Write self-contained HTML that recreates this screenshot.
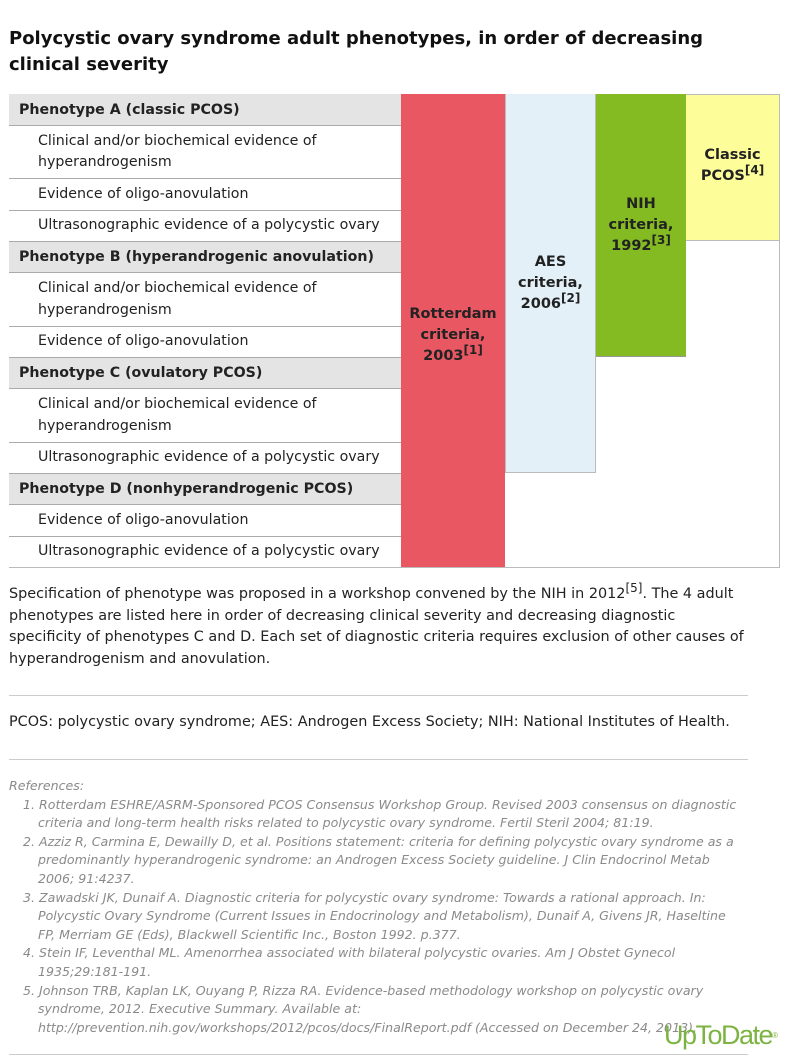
<!DOCTYPE html>
<html><head><meta charset="utf-8"><style>
body{margin:0;width:788px;height:1063px;background:#fff;font-family:"DejaVu Sans","Liberation Sans",sans-serif;color:#222;position:relative;overflow:hidden}
.a{position:absolute}
.title{left:9px;top:26px;font-weight:bold;font-size:18px;line-height:26px;color:#111;width:740px}
.row{position:absolute;left:9px;width:392px;border-top:1px solid #aaa;font-size:14.2px;box-sizing:border-box}
.hd{background:#e4e4e4;font-weight:bold;padding-left:10px;font-size:14.2px}
.it{background:#fff;padding-left:29px;line-height:21.5px}
.col{position:absolute;top:94px;box-sizing:border-box;font-weight:bold;font-size:14.5px;text-align:center;line-height:21px;display:flex;align-items:center;justify-content:center}
sup{font-size:12px;vertical-align:6px;line-height:0}
.ref{left:9px;top:777px;font-style:italic;color:#8a8a8a;font-size:12.6px;line-height:18.6px;white-space:nowrap}
.ref div{padding-left:29px;text-indent:-15px}
</style></head><body>
<div class="a title">Polycystic ovary syndrome adult phenotypes, in order of decreasing clinical severity</div>
<div class="a" style="left:9px;top:94px;width:771px;height:474px;border:1px solid #bbb;box-sizing:border-box"></div>
<div id="rows"></div>
<div class="col" style="left:401px;width:104px;height:473px;background:#e95763;padding-top:10px"><div>Rotterdam<br>criteria,<br>2003<sup>[1]</sup></div></div>
<div class="col" style="left:505px;width:91px;height:379px;background:#e3f0f8;border:1px solid #bbb;border-top:none"><div>AES<br>criteria,<br>2006<sup>[2]</sup></div></div>
<div class="col" style="left:596px;width:90px;height:263px;background:#84bb23;border-bottom:1px solid #999"><div>NIH<br>criteria,<br>1992<sup>[3]</sup></div></div>
<div class="col" style="left:686px;width:94px;height:147px;background:#fdfd9a;border:1px solid #bbb;border-left:none;padding-bottom:4px"><div>Classic<br>PCOS<sup>[4]</sup></div></div>
<div class="a" style="left:9px;top:584px;white-space:nowrap;font-size:14.4px;line-height:21.6px">Specification of phenotype was proposed in a workshop convened by the NIH in 2012<sup>[5]</sup>. The 4 adult<br>phenotypes are listed here in order of decreasing clinical severity and decreasing diagnostic<br>specificity of phenotypes C and D. Each set of diagnostic criteria requires exclusion of other causes of<br>hyperandrogenism and anovulation.</div>
<div class="a" style="left:9px;top:695px;width:739px;border-top:1px solid #ccc"></div>
<div class="a" style="left:9px;top:714px;font-size:14.4px">PCOS: polycystic ovary syndrome; AES: Androgen Excess Society; NIH: National Institutes of Health.</div>
<div class="a" style="left:9px;top:759px;width:739px;border-top:1px solid #ccc"></div>
<div class="a ref">References:
<div>1. Rotterdam ESHRE/ASRM-Sponsored PCOS Consensus Workshop Group. Revised 2003 consensus on diagnostic<br>criteria and long-term health risks related to polycystic ovary syndrome. Fertil Steril 2004; 81:19.</div>
<div>2. Azziz R, Carmina E, Dewailly D, et al. Positions statement: criteria for defining polycystic ovary syndrome as a<br>predominantly hyperandrogenic syndrome: an Androgen Excess Society guideline. J Clin Endocrinol Metab<br>2006; 91:4237.</div>
<div>3. Zawadski JK, Dunaif A. Diagnostic criteria for polycystic ovary syndrome: Towards a rational approach. In:<br>Polycystic Ovary Syndrome (Current Issues in Endocrinology and Metabolism), Dunaif A, Givens JR, Haseltine<br>FP, Merriam GE (Eds), Blackwell Scientific Inc., Boston 1992. p.377.</div>
<div>4. Stein IF, Leventhal ML. Amenorrhea associated with bilateral polycystic ovaries. Am J Obstet Gynecol<br>1935;29:181-191.</div>
<div>5. Johnson TRB, Kaplan LK, Ouyang P, Rizza RA. Evidence-based methodology workshop on polycystic ovary<br>syndrome, 2012. Executive Summary. Available at:<br>http://prevention.nih.gov/workshops/2012/pcos/docs/FinalReport.pdf (Accessed on December 24, 2013).</div>
</div>
<div class="a" style="left:9px;top:1054px;width:739px;border-top:1px solid #ccc"></div>
<div class="a" style="left:664px;top:1020px;font-family:'Liberation Sans',sans-serif;font-size:27px;color:#7cb342;letter-spacing:-1.5px">UpToDate<sup style="font-size:8px">®</sup></div>
<script>
const rowLabels=["Phenotype A (classic PCOS)","Clinical and/or biochemical evidence of<br>hyperandrogenism","Evidence of oligo-anovulation","Ultrasonographic evidence of a polycystic ovary","Phenotype B (hyperandrogenic anovulation)","Clinical and/or biochemical evidence of<br>hyperandrogenism","Evidence of oligo-anovulation","Phenotype C (ovulatory PCOS)","Clinical and/or biochemical evidence of<br>hyperandrogenism","Ultrasonographic evidence of a polycystic ovary","Phenotype D (nonhyperandrogenic PCOS)","Evidence of oligo-anovulation","Ultrasonographic evidence of a polycystic ovary"];
const rowEdges=[94,125,178,210,241,272,326,357,388,442,473,504,536,567];
const c=document.getElementById('rows');
rowLabels.forEach((t,i)=>{
const d=document.createElement('div');
const h=t.startsWith('Phenotype');
d.className='row '+(h?'hd':'it');


const y=rowEdges[i],hh=rowEdges[i+1]-y;
d.style.top=y+'px';d.style.height=hh+'px';
d.style.display='flex';d.style.alignItems='center';
if(i===0)d.style.borderTop='none';
d.innerHTML='<span>'+t+'</span>';
c.appendChild(d);
});
</script>
</body></html>
